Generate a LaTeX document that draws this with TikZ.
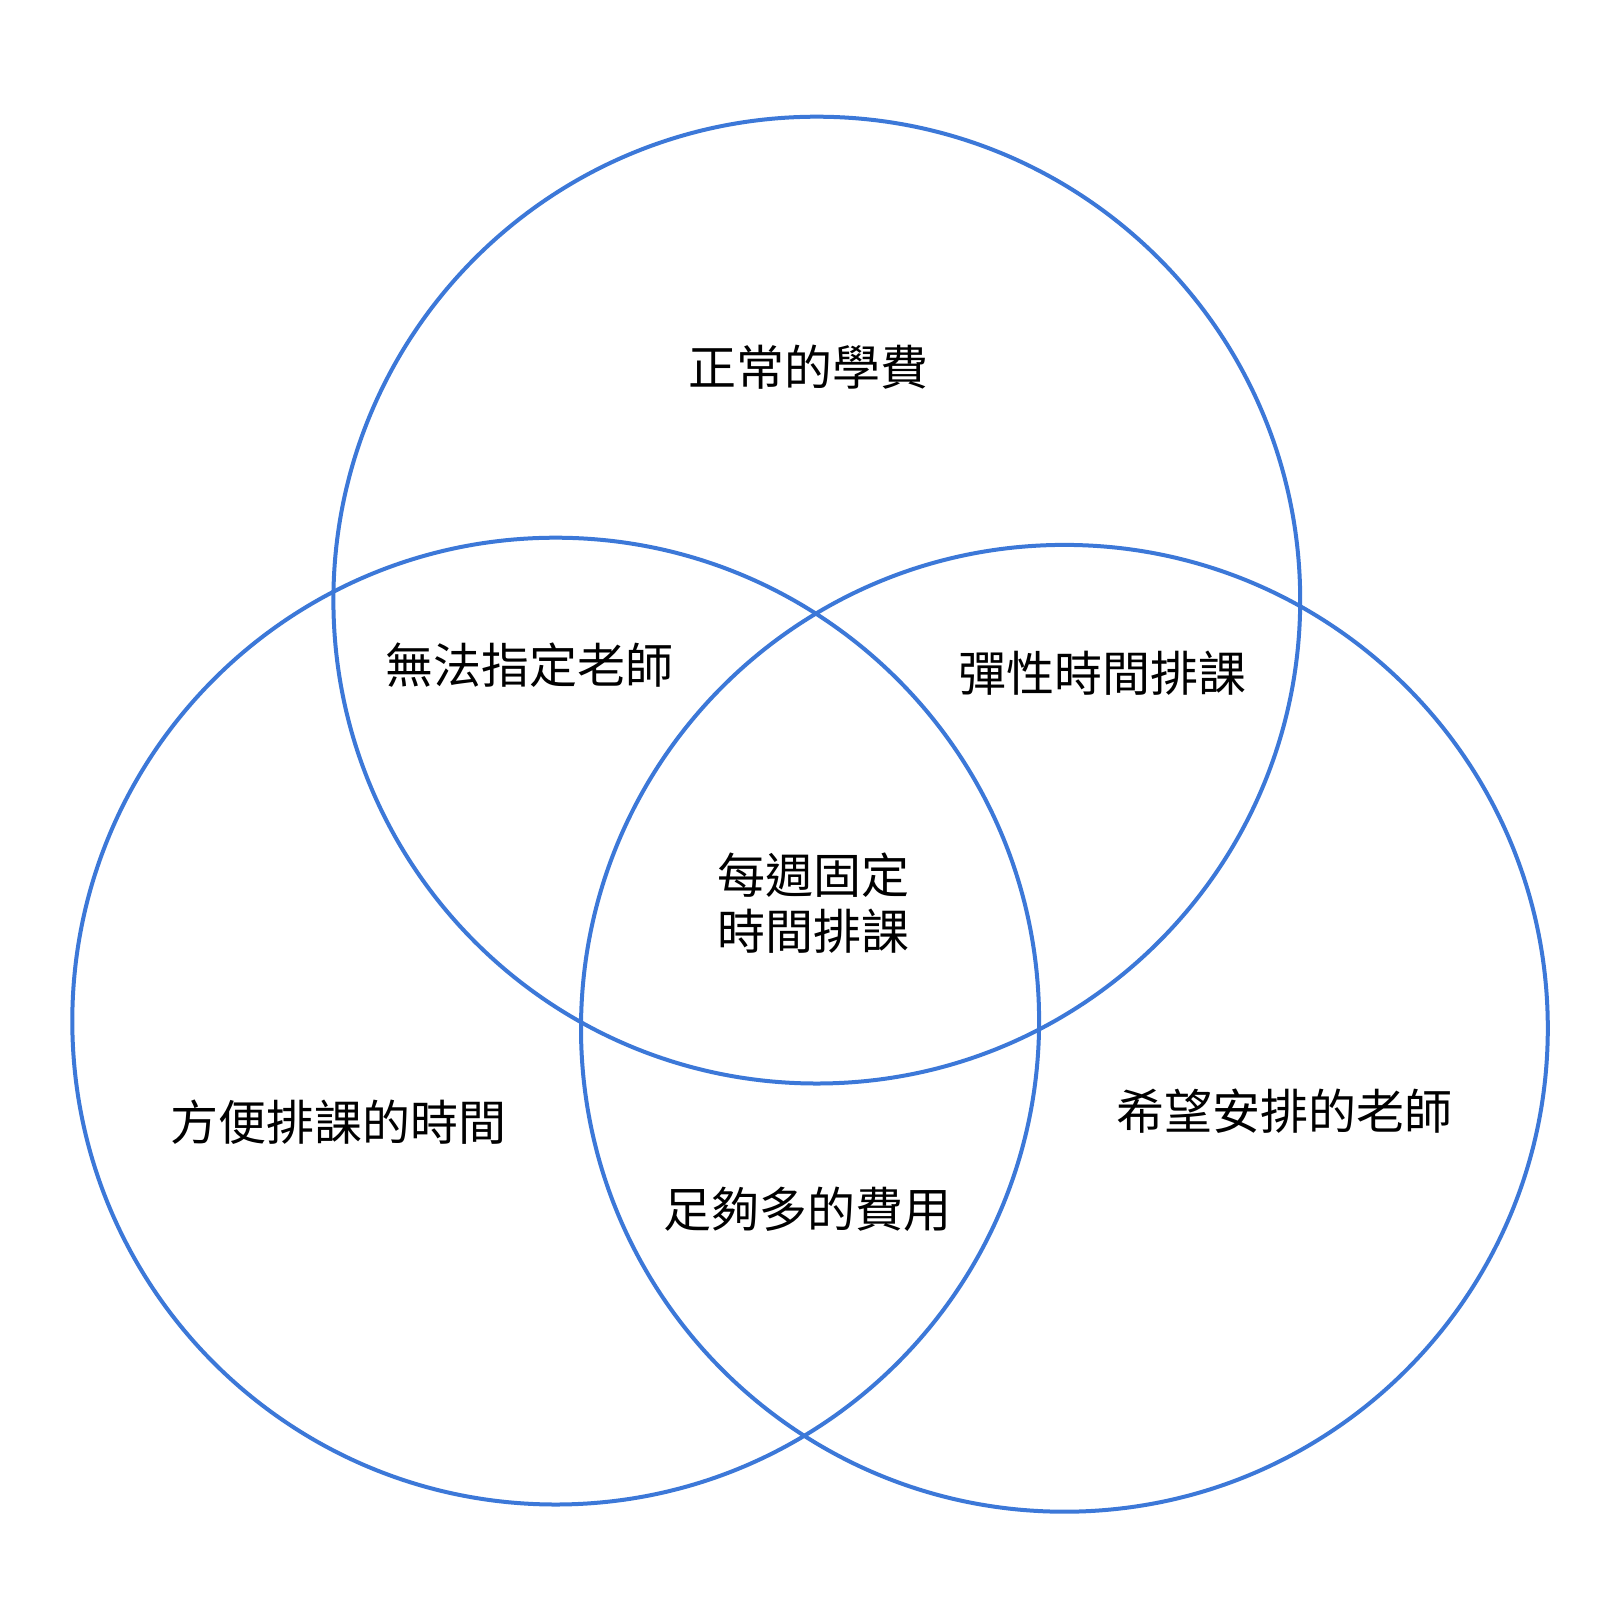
\documentclass[tikz,border=0pt]{standalone}
\usepackage{fontspec}
\newfontfamily\cjk{Noto Sans CJK TC}
\definecolor{vennblue}{HTML}{3C78D8}
\begin{document}
\begin{tikzpicture}[x=0.5pt,y=-0.5pt,
  ring/.style={draw=vennblue,line width=2pt},
  lbl/.style={font=\cjk\fontsize{24}{28}\selectfont,text=black,inner sep=0pt,align=center}]
\useasboundingbox (0,0) rectangle (1618,1618);
\fill[white] (0,0) rectangle (1618,1618);
\node[ring,circle,minimum size=483.4pt,inner sep=0pt] (top) at (816.8,600.1) {};
\node[ring,circle,minimum size=483.4pt,inner sep=0pt] (left) at (555.7,1021.1) {};
\node[ring,circle,minimum size=483.4pt,inner sep=0pt] (right) at (1064.4,1028.3) {};
\node[lbl] (a) at (808,367) {正常的學費};
\node[lbl] (b) at (529,665) {無法指定老師};
\node[lbl] (c) at (1102,673) {彈性時間排課};
\node[lbl] (d) at (813,903) {每週固定\\時間排課};
\node[lbl] (e) at (338,1122) {方便排課的時間};
\node[lbl] (f) at (1284,1111) {希望安排的老師};
\node[lbl] (g) at (807,1209) {足夠多的費用};
\end{tikzpicture}
\end{document}
